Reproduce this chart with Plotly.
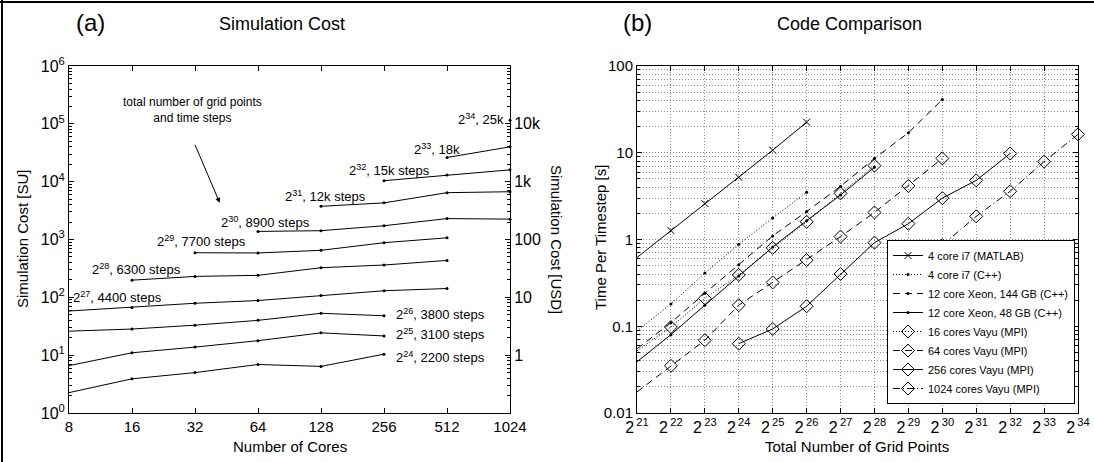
import numpy as np
import plotly.graph_objects as go

W, H = 1094, 462
FONT = "Liberation Sans, Arial, Helvetica, sans-serif"

# ---------------- data: panel (a) ----------------
cores = [8, 16, 32, 64, 128, 256, 512, 1024]
core_labels = ["8", "16", "32", "64", "128", "256", "512", "1024"]

cost_2_24 = [2.25, 3.9, 5.0, 6.9, 6.4, 10.4]            # 8 .. 256
cost_2_25 = [6.6, 11.0, 13.8, 17.8, 24.3, 21.5]          # 8 .. 256
cost_2_26 = [26, 28.3, 33, 40, 53, 48]                   # 8 .. 256
cost_2_27 = [58, 67, 79, 88, 108, 130, 142]              # 8 .. 512
cost_2_28 = [198, 230, 240, 325, 362, 435]               # 16 .. 512
cost_2_29 = [590, 585, 650, 880, 1070]                   # 32 .. 512
cost_2_30 = [1380, 1420, 1730, 2300, 2250]               # 64 .. 1024
cost_2_31 = [3750, 4300, 6450, 6700]                     # 128 .. 1024
cost_2_32 = [10400, 13000, 16000]                        # 256 .. 1024
cost_2_33 = [26200, 40000]                               # 512 .. 1024
cost_2_34 = [115000]                                     # 1024

cost_series = [cost_2_24, cost_2_25, cost_2_26, cost_2_27, cost_2_28, cost_2_29,
               cost_2_30, cost_2_31, cost_2_32, cost_2_33, cost_2_34]
cost_start_core = [8, 8, 8, 8, 16, 32, 64, 128, 256, 512, 1024]
cost_labels = ["2<sup>24</sup>, 2200 steps", "2<sup>25</sup>, 3100 steps",
               "2<sup>26</sup>, 3800 steps", "2<sup>27</sup>, 4400 steps",
               "2<sup>28</sup>, 6300 steps", "2<sup>29</sup>, 7700 steps",
               "2<sup>30</sup>, 8900 steps", "2<sup>31</sup>, 12k steps",
               "2<sup>32</sup>, 15k steps", "2<sup>33</sup>, 18k",
               "2<sup>34</sup>, 25k"]
su_ticks = [1, 10, 100, 1000, 10000, 100000, 1000000]
su_labels = ["10<sup>%d</sup>" % k for k in range(7)]
usd_ticks = [1, 10, 100, 1000, 10000]
usd_labels = ["1", "10", "100", "1k", "10k"]

# ---------------- data: panel (b) ----------------
grid_exp = list(range(21, 35))
grid_labels = ["2<sup>\u2009%d</sup>" % k for k in grid_exp]
time_ticks = [0.01, 0.1, 1, 10, 100]
time_labels = ["0.01", "0.1", "1", "10", "100"]

t_matlab = [0.62, 1.27, 2.6, 5.2, 10.7, 22.5]                          # 2^21..2^26
t_i7_cpp = [0.088, 0.18, 0.41, 0.88, 1.77, 3.5]                        # 2^21..2^26
t_xeon144 = [0.055, 0.11, 0.24, 0.51, 1.1, 2.1, 4.1, 8.6, 17, 41]      # 2^21..2^30
t_xeon48 = [0.039, 0.08, 0.175, 0.38, 0.82, 1.65, 3.25, 6.8]           # 2^21..2^28
t_vayu16 = [0.052, 0.098, 0.21, 0.39, 0.80, 1.6, 3.4, 7.1]             # 2^21..2^28
t_vayu64 = [0.0175, 0.035, 0.069, 0.175, 0.32, 0.58, 1.08, 2.05, 4.15, 8.6]  # 2^21..2^30
t_vayu256 = [0.063, 0.093, 0.17, 0.40, 0.92, 1.52, 3.0, 4.8, 9.8]      # 2^24..2^32
t_vayu1024 = [0.86, 1.85, 3.6, 7.9, 16.3]                              # 2^30..2^34

code_names = ["4 core i7 (MATLAB)", "4 core i7 (C++)", "12 core Xeon, 144 GB (C++)",
              "12 core Xeon, 48 GB (C++)", "16 cores Vayu (MPI)", "64 cores Vayu (MPI)",
              "256 cores Vayu (MPI)", "1024 cores Vayu (MPI)"]
code_values = [t_matlab, t_i7_cpp, t_xeon144, t_xeon48, t_vayu16, t_vayu64, t_vayu256, t_vayu1024]
code_start_exp = [21, 21, 21, 21, 21, 21, 24, 30]

# ---------------- styles ----------------
DOT = "1px,2px"
DASH = "7px,5px"
DASHDOT = "7px,3px,1px,3px"
code_dash = ["solid", DOT, DASH, "solid", DOT, DASH, "solid", DASHDOT]
diamond = dict(symbol="diamond-open", size=10, color="black", line=dict(width=1, color="black"))
dot_mk = dict(symbol="circle", size=3, color="black")
code_marker = [dict(symbol="x-thin-open", size=7, color="black", line=dict(width=1, color="black")),
               dot_mk, dot_mk, dot_mk, diamond, diamond, diamond, diamond]

# label anchor positions (cores, SU) for the panel (a) series labels
label_pos = [(285, 9.4), (285, 22.8), (285, 52), (8.2, 101), (10.1, 305), (20.5, 940),
             (41.5, 2020), (84, 5650), (170, 15800), (347, 37000), (565, 120000)]


def px(x):
    return x / W


def py(y):
    return 1 - y / H


fig = go.Figure()

for vals, start, name in zip(cost_series, cost_start_core, cost_labels):
    i0 = cores.index(start)
    fig.add_trace(go.Scatter(x=cores[i0:i0 + len(vals)], y=vals, mode="lines+markers",
                             line=dict(color="black", width=1),
                             marker=dict(symbol="circle", size=3, color="black"),
                             xaxis="x", yaxis="y", showlegend=False, cliponaxis=False,
                             hoverinfo="skip"))

# invisible carrier so that the USD axis (y2) is drawn
fig.add_trace(go.Scatter(x=[cores[0]], y=[usd_ticks[0]], mode="markers", marker=dict(opacity=0),
                         xaxis="x", yaxis="y2", showlegend=False, hoverinfo="skip"))

for vals, start, name, dash, mk in zip(code_values, code_start_exp, code_names, code_dash, code_marker):
    xs = [2.0 ** (start + i) for i in range(len(vals))]
    fig.add_trace(go.Scatter(x=xs, y=vals, name=name, mode="lines+markers",
                             line=dict(color="black", width=1, dash=dash),
                             marker=mk, xaxis="x2", yaxis="y3", cliponaxis=False))

ann = []
for (lx, ly), txt in zip(label_pos, cost_labels):
    ann.append(dict(x=np.log10(lx), y=np.log10(ly), xref="x", yref="y", text=txt,
                    showarrow=False, xanchor="left", yanchor="middle",
                    font=dict(size=13, family=FONT, color="black")))
ann.append(dict(x=np.log10(31), y=np.log10(175000), xref="x", yref="y",
                text="total number of grid points<br>and time steps", showarrow=False,
                xanchor="center", yanchor="middle", align="center",
                font=dict(size=12, family=FONT, color="black")))
ann.append(dict(x=np.log10(42), y=np.log10(4300), ax=np.log10(31.8), ay=np.log10(46000),
                xref="x", yref="y", axref="x", ayref="y", text="", showarrow=True,
                arrowhead=2, arrowsize=1, arrowwidth=1, arrowcolor="black"))


def paper_text(x, y, txt, size, angle=0):
    return dict(x=px(x), y=py(y), xref="paper", yref="paper", text=txt, showarrow=False,
                xanchor="center", yanchor="middle", textangle=angle,
                font=dict(size=size, family=FONT, color="black"))


ann += [paper_text(90, 22, "(a)", 24), paper_text(282, 24, "Simulation Cost", 18),
        paper_text(637, 22, "(b)", 24), paper_text(849, 24, "Code Comparison", 18),
        paper_text(290, 446, "Number of Cores", 15),
        paper_text(857, 446, "Total Number of Grid Points", 15),
        paper_text(23, 239, "Simulation Cost [SU]", 15, -90),
        paper_text(556, 239, "Simulation Cost [USD]", 15, 90),
        paper_text(600, 238, "Time Per Timestep [s]", 15, -90)]

tickfont = dict(size=15, family=FONT, color="black")
ydom = [py(413), py(66)]
common = dict(showline=True, linecolor="black", linewidth=1, ticks="inside", ticklen=5,
              tickcolor="black", zeroline=False, automargin=False)
minor_ticks = dict(ticks="inside", ticklen=3, dtick="D1", tickcolor="black", showgrid=False)
GRID = "#8c8c8c"

fig.update_layout(
    template="none",
    width=W, height=H, autosize=False,
    margin=dict(l=0, r=0, t=0, b=0),
    paper_bgcolor="white", plot_bgcolor="white",
    font=dict(family=FONT, color="black"),
    annotations=ann,
    xaxis=dict(domain=[px(69), px(510)], anchor="y", type="log",
               range=[np.log10(8), np.log10(1024)], tickmode="array",
               tickvals=cores, ticktext=core_labels, mirror="ticks", showgrid=False,
               tickfont=tickfont, **common),
    yaxis=dict(domain=ydom, anchor="x", type="log", range=[0, 6], tickmode="array",
               tickvals=su_ticks, ticktext=su_labels, showgrid=False,
               minor=minor_ticks, tickfont=dict(size=16, family=FONT, color="black"), **common),
    yaxis2=dict(overlaying="y", side="right", anchor="x", type="log", range=[-1, 5],
                tickmode="array", tickvals=usd_ticks, ticktext=usd_labels, showgrid=False,
                minor=minor_ticks, tickfont=dict(size=16, family=FONT, color="black"), **common),
    xaxis2=dict(domain=[px(637), px(1078)], anchor="y3", type="log",
                range=[21 * np.log10(2), 34 * np.log10(2)], tickmode="array",
                tickvals=[2.0 ** k for k in grid_exp], ticktext=grid_labels,
                mirror="ticks", showgrid=True, gridcolor=GRID, griddash=DOT, gridwidth=1,
                tickfont=dict(size=16, family=FONT, color="black"), **common),
    yaxis3=dict(domain=ydom, anchor="x2", type="log", range=[-2, 2], tickmode="array",
                tickvals=time_ticks, ticktext=time_labels,
                mirror="ticks", showgrid=True, gridcolor=GRID, griddash=DOT, gridwidth=1,
                minor=dict(ticks="inside", ticklen=3, dtick="D1", tickcolor="black",
                           showgrid=True, gridcolor=GRID, griddash=DOT, gridwidth=1),
                tickfont=tickfont, **common),
    legend=dict(x=px(1075), xanchor="right", y=py(404), yanchor="bottom",
                bgcolor="white", bordercolor="black", borderwidth=1,
                font=dict(size=11, family=FONT, color="black"), tracegroupgap=0),
    shapes=[dict(type="line", xref="paper", yref="paper", x0=0, x1=1, y0=py(2), y1=py(2),
                 line=dict(color="black", width=2)),
            dict(type="line", xref="paper", yref="paper", x0=px(2), x1=px(2), y0=0, y1=1,
                 line=dict(color="black", width=2))],
)

fig.write_html("out.html", config={"displayModeBar": False, "responsive": False},
               post_script="document.body.style.margin='0';document.body.style.overflow='hidden';")
